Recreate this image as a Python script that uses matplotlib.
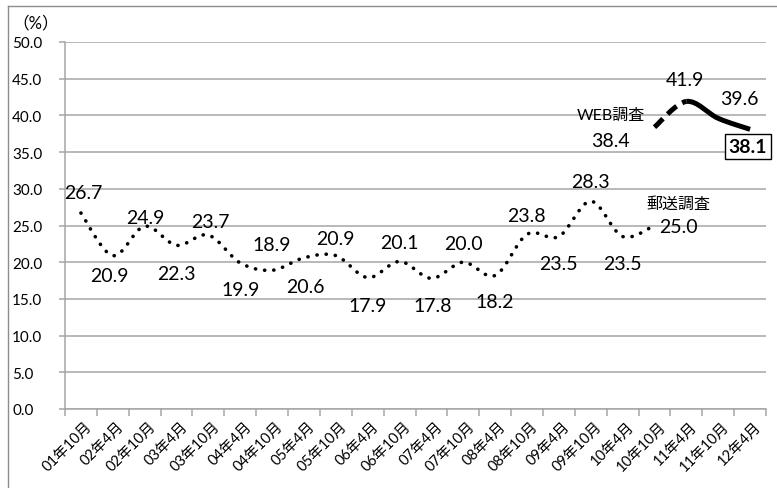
import numpy as np
import matplotlib
matplotlib.use("Agg")
import matplotlib.pyplot as plt
import matplotlib.transforms as mtransforms
from matplotlib.path import Path
from matplotlib.patches import PathPatch
from matplotlib.lines import Line2D

plt.rcParams['font.family'] = ['Lato', 'Noto Sans CJK JP', 'DejaVu Sans']

# data
periods = ["01年10月", "02年4月", "02年10月", "03年4月", "03年10月", "04年4月",
           "04年10月", "05年4月", "05年10月", "06年4月", "06年10月", "07年4月",
           "07年10月", "08年4月", "08年10月", "09年4月", "09年10月", "10年4月",
           "10年10月", "11年4月", "11年10月", "12年4月"]
mail_rate = [26.7, 20.9, 24.9, 22.3, 23.7, 19.9, 18.9, 20.6, 20.9, 17.9, 20.1,
             17.8, 20.0, 18.2, 23.8, 23.5, 28.3, 23.5, 25.0]
web_rate = [38.4, 41.9, 39.6, 38.1]
web_start = 18

# label offsets in pixels (layout only)
mail_off = [(2, 21), (-3, -20), (1, 9), (0, -28), (2, 14), (0, -27), (0, 26),
            (1, -29), (0, 17), (0, -28), (0, 19), (1, -27), (0, 19), (0, -26),
            (-1, 19), (0, -27), (0, 20), (0, -27), (24, -1)]
web_off = [(-44, -13), (-1, 22), (21, 20), (-2, -17)]


def smooth_segments(xs, ys):
    # Excel-like smoothed line as cubic Bezier segments
    pts = np.column_stack([xs, ys]).astype(float)
    n = len(pts)
    segs = []
    for i in range(n - 1):
        p0 = pts[max(i - 1, 0)]
        p1 = pts[i]
        p2 = pts[i + 1]
        p3 = pts[min(i + 2, n - 1)]
        c1 = p1 + (p2 - p0) / 6
        c2 = p2 - (p3 - p1) / 6
        segs.append([p1, c1, c2, p2])
    return segs


def seg_path(segs):
    verts = [segs[0][0]]
    codes = [Path.MOVETO]
    for s in segs:
        verts += s[1:]
        codes += [Path.CURVE4] * 3
    return Path(verts, codes)


fig = plt.figure(figsize=(7.77, 4.89), dpi=100)
ax = fig.add_axes([65 / 777, 79 / 489, 701 / 777, 367 / 489])

grid_c = "#a6a6a6"
ax.set_xlim(-0.5, len(periods) - 0.5)
ax.set_ylim(0, 50)
ax.set_yticks(np.arange(0, 50.1, 5))
ax.set_yticklabels(["%.1f" % v for v in np.arange(0, 50.1, 5)], fontsize=11)
ax.grid(axis="y", color=grid_c, lw=1.1)
ax.set_axisbelow(True)
for s in ["top", "right"]:
    ax.spines[s].set_visible(False)
for s in ["left", "bottom"]:
    ax.spines[s].set_color(grid_c)
    ax.spines[s].set_linewidth(1.1)
ax.tick_params(axis="y", length=4, color=grid_c, width=1.1, pad=34)
for t in ax.get_yticklabels():
    t.set_horizontalalignment("left")

x_mail = np.arange(len(mail_rate))
x_web = np.arange(web_start, web_start + len(web_rate))

ax.set_xticks(np.arange(-0.5, len(periods), 1.0), minor=True)
ax.set_xticks(np.arange(len(periods)))
ax.set_xticklabels(periods, rotation=45, ha="right", rotation_mode="anchor",
                   fontsize=10.5)
ax.tick_params(axis="x", which="major", length=0, pad=7)
ax.tick_params(axis="x", which="minor", length=5, color=grid_c, width=1.1)
shift = mtransforms.ScaledTranslation(4 / 100, 0, fig.dpi_scale_trans)
for t in ax.get_xticklabels():
    t.set_transform(t.get_transform() + shift)

# mail survey: dotted smoothed line
mail_path = seg_path(smooth_segments(x_mail, mail_rate))
ax.add_patch(PathPatch(mail_path, fill=False, lw=2.6, ec="black",
                       ls=(0, (0.05, 2.5)), capstyle="round"))

# web survey: first segment dashed, rest solid
wsegs = smooth_segments(x_web, web_rate)
ax.add_patch(PathPatch(seg_path(wsegs[:1]), fill=False, lw=3.6, ec="black",
                       ls=(0, (2.4, 1.3)), capstyle="butt"))
ax.add_patch(PathPatch(seg_path(wsegs[1:]), fill=False, lw=3.6, ec="black",
                       capstyle="butt", joinstyle="round"))

for x, v, off in zip(x_mail, mail_rate, mail_off):
    ax.annotate("%.1f" % v, (x, v), xytext=off, textcoords="offset pixels",
                ha="center", va="center", fontsize=14)

for i, (x, v, off) in enumerate(zip(x_web, web_rate, web_off)):
    last = i == len(web_rate) - 1
    ax.annotate("%.1f" % v, (x, v), xytext=off, textcoords="offset pixels",
                ha="center", va="center", fontsize=14,
                fontweight="bold" if last else "normal",
                bbox=dict(boxstyle="square,pad=0.2", fc="white", ec="black",
                          lw=1.0) if last else None)

ax.annotate("郵送調査", (x_mail[-1], mail_rate[-1]), xytext=(24, 22),
            textcoords="offset pixels", ha="center", va="center", fontsize=11.5)
ax.annotate("WEB調査", (x_web[0], web_rate[0]), xytext=(-44, 12),
            textcoords="offset pixels", ha="center", va="center", fontsize=11.5)

fig.text(12 / 777, 1 - 23 / 489, "（%）", ha="left", va="center", fontsize=12)

# chart border (left and top edges)
fig.add_artist(Line2D([8 / 777, 8 / 777], [0, 1 - 7 / 489],
                      transform=fig.transFigure, color="#8c8c8c", lw=1.0))
fig.add_artist(Line2D([8 / 777, 1], [1 - 7 / 489, 1 - 7 / 489],
                      transform=fig.transFigure, color="#8c8c8c", lw=1.0))

fig.savefig("out.png", dpi=100, facecolor="white")
